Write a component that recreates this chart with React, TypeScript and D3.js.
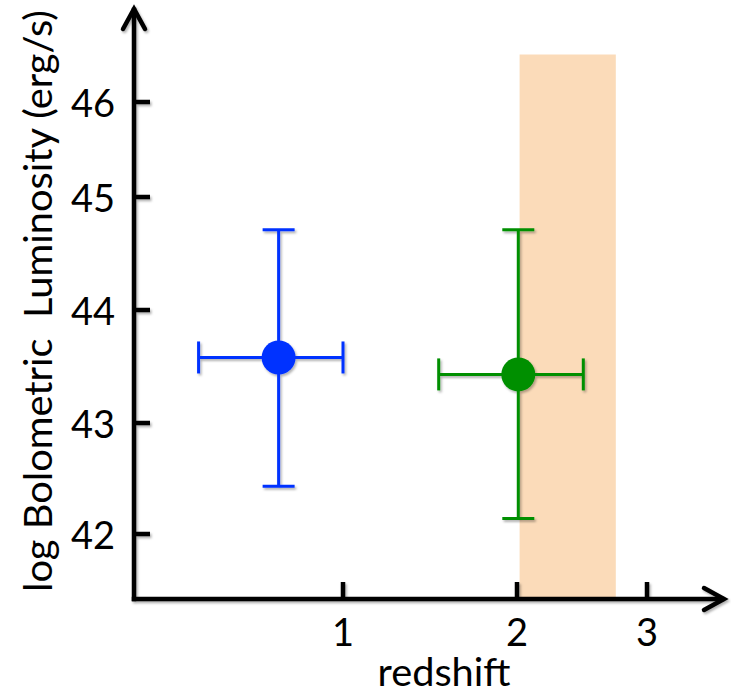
import React from "react";
import * as d3 from "d3";

// ---- data ----
const xTickValues = [1, 2, 3];
const yTickValues = [42, 43, 44, 45, 46];
const seriesNames = ["low-z", "high-z"];
const seriesColors = ["#0433FF", "#008F00"];
const redshift = [0.63, 2.01];
const redshiftLow = [0.17, 1.55];
const redshiftHigh = [1.0, 2.51];
const logLbol = [43.58, 43.43];
const logLbolLow = [42.43, 42.14];
const logLbolHigh = [44.71, 44.71];
const bandRange = [2.02, 2.76];
const bandTop = 46.5;

const W = 731;
const H = 694;

export default function App() {
  // hand-drawn axes: polylinear scales through the tick positions
  const x = d3.scaleLinear().domain([1, 2, 3]).range([343, 517, 647]);
  const y = d3.scaleLinear().domain([42, 43, 44, 45, 46]).range([534, 423, 310, 197, 102]);

  const x0 = 134; // axis origin
  const y0 = 599;
  const xEnd = 724;
  const yEnd = 8;
  const font = "Lato, 'Open Sans', sans-serif";
  const cap = 16;

  return (
    <svg
      width={W}
      height={H}
      style={{ position: "absolute", left: 0, top: 0, background: "#fff" }}
    >
      <defs>
        <filter id="sh" x="-10%" y="-10%" width="130%" height="130%">
          <feDropShadow dx="1.5" dy="2" stdDeviation="1.2" floodColor="#000" floodOpacity="0.3" />
        </filter>
      </defs>

      {/* shaded redshift band */}
      <rect
        x={x(bandRange[0])}
        y={y(bandTop)}
        width={x(bandRange[1]) - x(bandRange[0])}
        height={y0 - y(bandTop)}
        fill="#FBDBB9"
      />

      {/* axes */}
      <g stroke="#000" strokeWidth={4.5} fill="none" filter="url(#sh)" strokeLinecap="square">
        <line x1={x0} y1={y0} x2={x0} y2={yEnd + 2} />
        <line x1={x0} y1={y0} x2={xEnd - 2} y2={y0} />
        <polyline points={`${x0 - 11},${yEnd + 21} ${x0},${yEnd + 1} ${x0 + 11},${yEnd + 21}`} strokeLinejoin="miter" strokeLinecap="round" />
        <polyline points={`${xEnd - 20},${y0 - 11} ${xEnd},${y0} ${xEnd - 20},${y0 + 11}`} strokeLinejoin="miter" strokeLinecap="round" />
        {yTickValues.map((v) => (
          <line key={"yt" + v} x1={x0} x2={x0 + 16} y1={y(v)} y2={y(v)} strokeLinecap="butt" />
        ))}
        {xTickValues.map((v) => (
          <line key={"xt" + v} x1={x(v)} x2={x(v)} y1={y0} y2={y0 - 17} strokeLinecap="butt" />
        ))}
      </g>

      {/* tick labels */}
      <g fontFamily={font} fontSize={38} fill="#000">
        {yTickValues.map((v) => (
          <text key={"yl" + v} x={115} y={y(v)} textAnchor="end" dominantBaseline="central">
            {v}
          </text>
        ))}
        {xTickValues.map((v) => (
          <text key={"xl" + v} x={x(v)} y={631} textAnchor="middle" dominantBaseline="central">
            {v}
          </text>
        ))}
        <text x={444} y={686} textAnchor="middle" textLength={133} lengthAdjust="spacingAndGlyphs">
          redshift
        </text>
        <text
          transform={`translate(52,${301}) rotate(-90)`}
          textAnchor="middle"
          textLength={582}
          lengthAdjust="spacingAndGlyphs"
          fontSize={39}
        >
          {"log Bolometric\u00A0\u00A0Luminosity (erg/s)"}
        </text>
      </g>

      {/* data points with error bars */}
      {seriesNames.map((name, i) => {
        const cx = x(redshift[i]);
        const cy = y(logLbol[i]);
        const xl = x(redshiftLow[i]);
        const xh = x(redshiftHigh[i]);
        const yl = y(logLbolLow[i]);
        const yh = y(logLbolHigh[i]);
        const c = seriesColors[i];
        return (
          <g key={name} stroke={c} strokeWidth={3} fill="none" filter="url(#sh)">
            <line x1={cx} x2={cx} y1={yh} y2={yl} />
            <line x1={cx - cap} x2={cx + cap} y1={yh} y2={yh} />
            <line x1={cx - cap} x2={cx + cap} y1={yl} y2={yl} />
            <line x1={xl} x2={xh} y1={cy} y2={cy} />
            <line x1={xl} x2={xl} y1={cy - cap} y2={cy + cap} />
            <line x1={xh} x2={xh} y1={cy - cap} y2={cy + cap} />
            <circle cx={cx} cy={cy} r={17} fill={c} stroke="none" />
          </g>
        );
      })}
    </svg>
  );
}
